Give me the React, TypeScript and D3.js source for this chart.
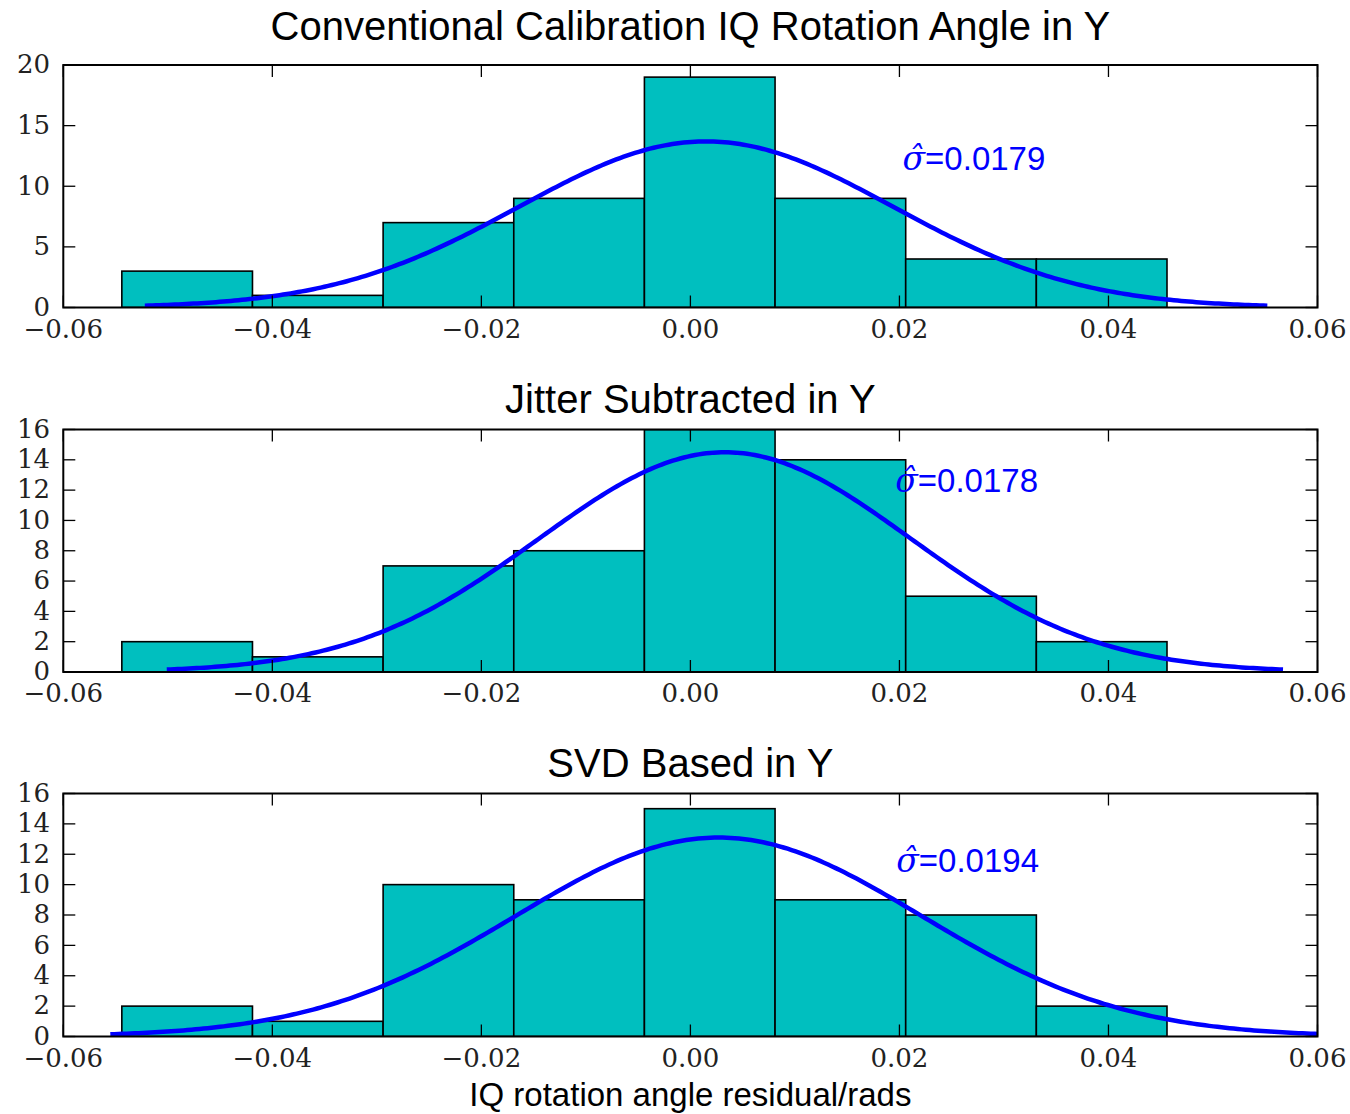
import React from "react";
import * as d3 from "d3";

// Histogram bin edges (rad) shared by all three panels
const binEdges = [-0.0544, -0.0419, -0.0294, -0.0169, -0.0044, 0.0081, 0.0206, 0.0331, 0.0456];

// Counts per bin for each method
const countsConventional = [3, 1, 7, 9, 19, 9, 4, 4];
const countsJitter = [2, 1, 7, 8, 16, 14, 5, 2];
const countsSvd = [2, 1, 10, 9, 15, 9, 8, 2];

// Fitted normal curve parameters: mean, sigma, peak height
const fitMeans = [0.0015, 0.0033, 0.0027];
const fitSigmas = [0.0179, 0.0178, 0.0194];
const fitPeaks = [13.7, 14.5, 13.1];

// Sigma annotation anchor (data coords)
const noteX = [0.0203, 0.0196, 0.0197];
const noteY = [11.3, 11.85, 10.85];

const panelTitles = [
  "Conventional Calibration IQ Rotation Angle in Y",
  "Jitter Subtracted in Y",
  "SVD Based in Y",
];
const yMaxes = [20, 16, 16];
const yTicksWide = [0, 5, 10, 15, 20];
const yTicksNarrow = [0, 2, 4, 6, 8, 10, 12, 14, 16];
const xTicks = [-0.06, -0.04, -0.02, 0.0, 0.02, 0.04, 0.06];
const xLabel = "IQ rotation angle residual/rads";

const W = 1350;
const H = 1114;
const left = 63.3;
const right = 1317.5;
const panelTops = [65, 429.5, 793.5];
const panelBottoms = [307.5, 672, 1036.5];
const titleBaselines = [40, 413, 777];

const tickFont = "'DejaVu Serif', serif";
const sansFont = "'Liberation Sans', Arial, sans-serif";
const barFill = "#00bfbf";
const curveColor = "#0000ff";

const fmtX = (v: number) => {
  const s = Math.abs(v).toFixed(2);
  return v < -1e-9 ? "\u2212" + s : s;
};

function Panel({ idx, counts, yTicks }: { idx: number; counts: number[]; yTicks: number[] }) {
  const top = panelTops[idx];
  const bottom = panelBottoms[idx];
  const x = d3.scaleLinear().domain([-0.06, 0.06]).range([left, right]);
  const y = d3.scaleLinear().domain([0, yMaxes[idx]]).range([bottom, top]);

  const mu = fitMeans[idx];
  const sd = fitSigmas[idx];
  const amp = fitPeaks[idx];
  const xs = d3.range(0, 301).map((i) => mu - 3 * sd + (6 * sd * i) / 300);
  const line = d3
    .line<number>()
    .x((v) => x(v))
    .y((v) => y(amp * Math.exp(-0.5 * ((v - mu) / sd) ** 2)));

  const clipId = `clip-${idx}`;
  const tickLen = 12;

  return (
    <g>
      <defs>
        <clipPath id={clipId}>
          <rect x={left} y={top} width={right - left} height={bottom - top} />
        </clipPath>
      </defs>
      <text
        x={(left + right) / 2}
        y={titleBaselines[idx]}
        textAnchor="middle"
        fontFamily={sansFont}
        fontSize={40}
        fill="#000"
      >
        {panelTitles[idx]}
      </text>
      <g clipPath={`url(#${clipId})`}>
        {counts.map((c, i) => (
          <rect
            key={i}
            x={x(binEdges[i])}
            y={y(c)}
            width={x(binEdges[i + 1]) - x(binEdges[i])}
            height={y(0) - y(c)}
            fill={barFill}
            stroke="#000"
            strokeWidth={1.6}
          />
        ))}
        <path d={line(xs) || ""} fill="none" stroke={curveColor} strokeWidth={4.5} />
      </g>
      {/* ticks pointing inward on all four sides */}
      {xTicks.map((t, i) => (
        <g key={`xt${i}`}>
          <line x1={x(t)} x2={x(t)} y1={bottom} y2={bottom - tickLen} stroke="#000" strokeWidth={1.3} />
          <line x1={x(t)} x2={x(t)} y1={top} y2={top + tickLen} stroke="#000" strokeWidth={1.3} />
          <text
            x={x(t)}
            y={bottom + 30}
            textAnchor="middle"
            fontFamily={tickFont}
            fontSize={26}
            fill="#222"
          >
            {fmtX(t)}
          </text>
        </g>
      ))}
      {yTicks.map((t, i) => (
        <g key={`yt${i}`}>
          <line x1={left} x2={left + tickLen} y1={y(t)} y2={y(t)} stroke="#000" strokeWidth={1.3} />
          <line x1={right} x2={right - tickLen} y1={y(t)} y2={y(t)} stroke="#000" strokeWidth={1.3} />
          <text
            x={50}
            y={y(t)}
            dy="0.32em"
            textAnchor="end"
            fontFamily={tickFont}
            fontSize={26}
            fill="#222"
          >
            {t}
          </text>
        </g>
      ))}
      <rect
        x={left}
        y={top}
        width={right - left}
        height={bottom - top}
        fill="none"
        stroke="#000"
        strokeWidth={2}
      />
      <text x={x(noteX[idx])} y={y(noteY[idx])} fontSize={33} fill={curveColor}>
        <tspan fontFamily={tickFont} fontStyle="italic">
          {"\u03c3\u0302"}
        </tspan>
        <tspan fontFamily={sansFont}>{"=" + fitSigmas[idx].toFixed(4)}</tspan>
      </text>
    </g>
  );
}

export default function App() {
  return (
    <svg
      width={W}
      height={H}
      viewBox={`0 0 ${W} ${H}`}
      style={{ position: "absolute", left: 0, top: 0, background: "#fff" }}
    >
      <rect x={0} y={0} width={W} height={H} fill="#fff" />
      <Panel idx={0} counts={countsConventional} yTicks={yTicksWide} />
      <Panel idx={1} counts={countsJitter} yTicks={yTicksNarrow} />
      <Panel idx={2} counts={countsSvd} yTicks={yTicksNarrow} />
      <text
        x={(left + right) / 2}
        y={1106}
        textAnchor="middle"
        fontFamily={sansFont}
        fontSize={33}
        fill="#000"
      >
        {xLabel}
      </text>
    </svg>
  );
}
